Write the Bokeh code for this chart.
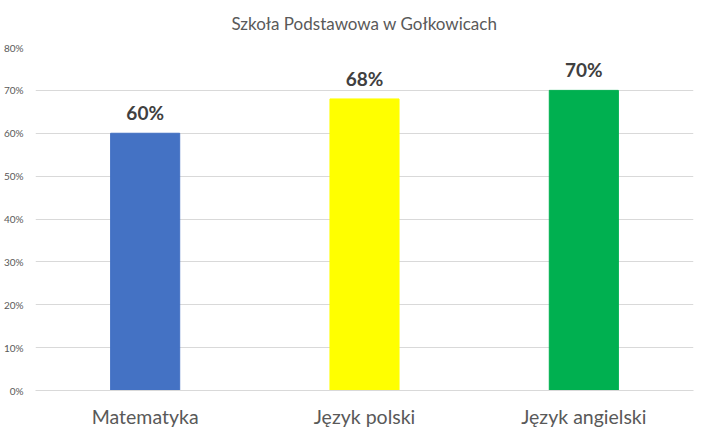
from bokeh.plotting import figure
from bokeh.models import ColumnDataSource, NumeralTickFormatter, FixedTicker
from bokeh.core.properties import value
from bokeh.embed import file_html
from bokeh.resources import INLINE

categories = ["Matematyka", "Język polski", "Język angielski"]
values = [0.60, 0.68, 0.70]
colors = ["#4472C4", "#FFFF00", "#00B050"]
labels = ["60%", "68%", "70%"]
y_ticks = [0, 0.1, 0.2, 0.3, 0.4, 0.5, 0.6, 0.7, 0.8]

FONT = "Lato"

src = ColumnDataSource(dict(cat=categories, val=values, color=colors, lab=labels))

p = figure(x_range=categories, y_range=(0, 0.8), frame_width=658, frame_height=343,
           output_backend="svg", toolbar_location=None,
           title="Szkoła Podstawowa w Gołkowicach",
           min_border_left=28, min_border_right=4, min_border_top=39, min_border_bottom=34)
p.outline_line_color = None
p.title.align = "center"
p.title.text_font = FONT
p.title.text_font_size = "17px"
p.title.text_font_style = "normal"
p.title.text_color = "#595959"
p.title.standoff = 24
p.title.vertical_align = "top"

p.vbar(x="cat", top="val", width=0.315, color="color", source=src)
p.text(x="cat", y="val", text="lab", source=src, text_align="center", text_baseline="bottom",
       y_offset=-9, text_font=value(FONT), text_font_size="19px", text_font_style="bold",
       text_color="#404040")

p.yaxis.ticker = FixedTicker(ticks=y_ticks)
p.yaxis.formatter = NumeralTickFormatter(format="0%")
p.yaxis.axis_line_color = None
p.yaxis.major_tick_line_color = None
p.yaxis.minor_tick_line_color = None
p.yaxis.major_label_text_font = FONT
p.yaxis.major_label_text_font_size = "10px"
p.yaxis.major_label_text_color = "#595959"
p.yaxis.major_label_standoff = 6

p.xaxis.axis_line_color = "#D9D9D9"
p.xaxis.major_tick_line_color = None
p.xaxis.minor_tick_line_color = None
p.xaxis.major_label_text_font = FONT
p.xaxis.major_label_text_font_size = "19.5px"
p.xaxis.major_label_text_color = "#595959"
p.xaxis.major_label_standoff = 8

p.xgrid.grid_line_color = None
p.ygrid.grid_line_color = "#D9D9D9"

open("out.html", "w").write(file_html(p, INLINE))
